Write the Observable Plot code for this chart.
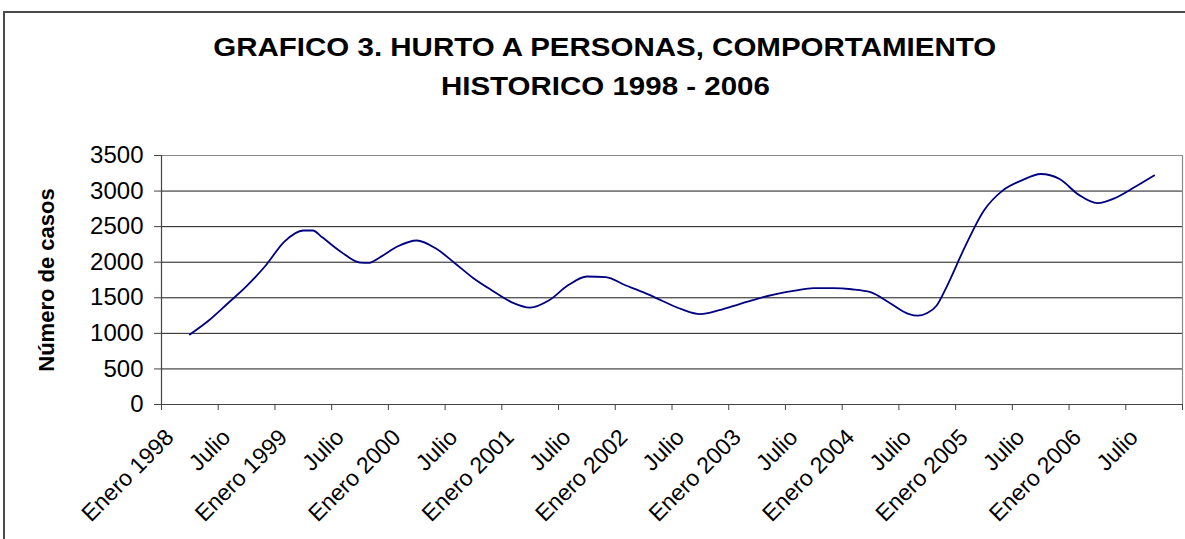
<!DOCTYPE html>
<html>
<head>
<meta charset="utf-8">
<script src="https://cdn.jsdelivr.net/npm/d3@7"></script>
<script src="https://cdn.jsdelivr.net/npm/@observablehq/plot@0.6"></script>
<style>
  body { margin: 0; background: #fff; font-family: "Liberation Sans", Arial, sans-serif; }
  #wrap { position: relative; width: 1185px; height: 539px; overflow: hidden; }
  #frame { position: absolute; left: 3px; top: 11px; width: 1300px; height: 700px;
           border-left: 2px solid #4a4a4a; border-top: 2px solid #4a4a4a; }
  #title { position: absolute; left: 0; top: 0; width: 1210px; text-align: center;
           font-weight: bold; font-size: 25px; line-height: 39px; padding-top: 28px; color: #000; }
  #title span { display: inline-block; transform: scaleX(1.18); }
  #chart { position: absolute; left: 0; top: 0; }
</style>
</head>
<body>
<div id="wrap">
  <div id="frame"></div>
  <div id="title"><span>GRAFICO 3. HURTO A PERSONAS, COMPORTAMIENTO</span><br><span>HISTORICO 1998 - 2006</span></div>
  <div id="chart"></div>
</div>
<script>
// Month index (0 = start of Enero 1998)
const mes = [3,5,7,9,11,13,15,16,17,19,21,22,23,25,27,29,31,33,35,37,39,41,43,45,47,49,51,53,55,57,59,61,63,65,67,69,71,73,75,77,79,80,81,82,83,85,87,89,91,93,95,97,99,101,103,105];
const casos = [984,1180,1420,1663,1950,2290,2446,2446,2350,2145,1995,1992,2060,2225,2305,2195,1990,1775,1600,1440,1362,1465,1675,1799,1790,1680,1575,1455,1340,1270,1325,1405,1486,1550,1600,1635,1635,1620,1579,1430,1275,1248,1285,1392,1640,2220,2727,3010,3150,3240,3170,2950,2830,2910,3060,3219];

// Category labels (half-year intervals) and their centres
const etiquetas = ["Enero 1998","Julio","Enero 1999","Julio","Enero 2000","Julio","Enero 2001","Julio","Enero 2002","Julio","Enero 2003","Julio","Enero 2004","Julio","Enero 2005","Julio","Enero 2006","Julio"];
const centros = etiquetas.map((_, i) => i * 6 + 3);
const limites = d3.range(0, 109, 6);
const yTicks = [0,500,1000,1500,2000,2500,3000,3500];

const data = mes.map((m, i) => ({mes: m, casos: casos[i]}));
const labelOf = new Map(centros.map((c, i) => [c, etiquetas[i]]));

const chart = Plot.plot({
  width: 1185,
  height: 539,
  marginTop: 155,
  marginLeft: 161,
  marginRight: 3,
  marginBottom: 135,
  style: {background: "transparent", fontFamily: "'Liberation Sans', Arial, sans-serif", fontSize: "22px", color: "#000"},
  x: {domain: [0, 108], axis: null},
  y: {domain: [0, 3500], axis: null},
  marks: [
    Plot.ruleY(yTicks.filter(d => d > 0 && d < 3500), {stroke: "#1a1a1a", strokeWidth: 1}),
    Plot.ruleY([3500], {stroke: "#8a8a8a", strokeWidth: 1.2}),
    Plot.ruleX([108], {stroke: "#8a8a8a", strokeWidth: 1.2}),
    Plot.line(data, {x: "mes", y: "casos", stroke: "#000080", strokeWidth: 1.8, curve: "monotone-x"}),
    Plot.ruleY([0], {stroke: "#444", strokeWidth: 1.2}),
    Plot.ruleX([0], {stroke: "#444", strokeWidth: 1.2}),
    Plot.axisY({ticks: yTicks, tickSize: 7, tickPadding: 11, stroke: "#444", fontSize: 24, tickFormat: d => String(d), label: null}),
    Plot.axisX({ticks: limites, tickSize: 6, stroke: "#444", tickFormat: () => "", label: null}),
    Plot.axisX({ticks: centros, tickSize: 0, tickPadding: 29, dx: -20, tickRotate: -45, fontSize: 23, tickFormat: d => labelOf.get(d), label: null}),
    Plot.text(["Número de casos"], {frameAnchor: "left", textAnchor: "middle", dx: -115, rotate: -90, fontWeight: "bold", fontSize: 22})
  ]
});
document.getElementById("chart").appendChild(chart);
</script>
</body>
</html>
